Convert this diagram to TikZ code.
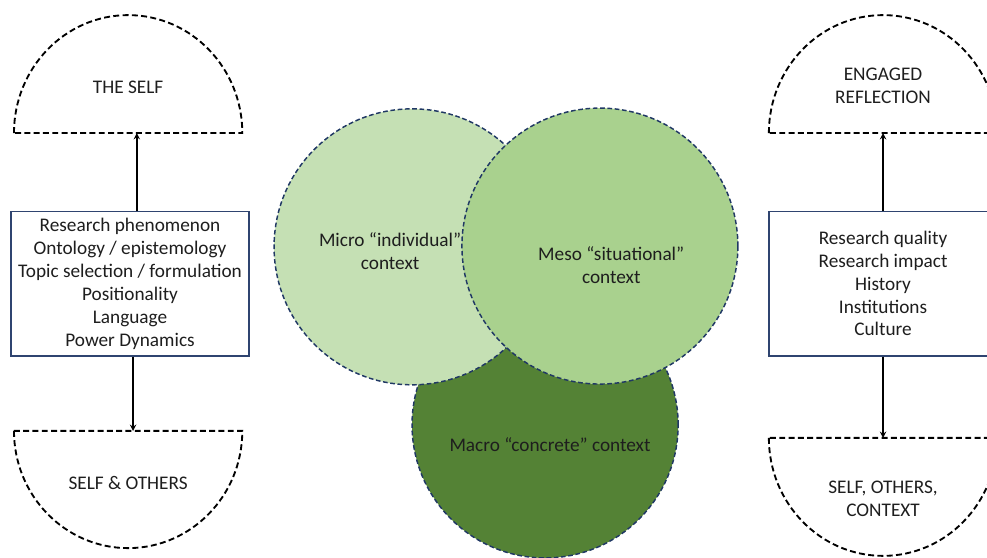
\documentclass[tikz,border=0pt]{standalone}
\usepackage{fontspec}
\setmainfont{Carlito}
\usetikzlibrary{arrows}
\definecolor{microgreen}{HTML}{C5E0B4}
\definecolor{mesogreen}{HTML}{A9D18E}
\definecolor{macrogreen}{HTML}{548235}
\definecolor{rimblue}{HTML}{203864}
\definecolor{boxblue}{HTML}{2F4470}
\definecolor{inkgray}{HTML}{1E1E1E}
\tikzstyle{listbox} = [rectangle, minimum height = 3.82cm, align = center, draw = boxblue, line width = 1.2pt, fill = white, text = inkgray, font = \fontsize{14.5}{17.25}\selectfont]
\tikzstyle{halfdisc} = [draw = black, dash pattern = on 4.5pt off 2.5pt, line width = 1.4pt]
\tikzstyle{disclabel} = [align = center, text = inkgray, font = \fontsize{14.5}{17.25}\selectfont]
\tikzstyle{context} = [circle, minimum size = 7.3cm, draw = rimblue, dash pattern = on 3.5pt off 2pt, line width = 1.1pt]
\tikzstyle{arrow} = [line width = 1.1pt, ->, >=stealth]

\begin{document}
\begin{tikzpicture}[node distance = 2cm]
    \clip (0,0) rectangle (26.11,14.76);
    % circles, back to front
    \node(macro)[context, fill = macrogreen, minimum size = 7.04cm] at (14.42,3.52){};
    \node(micro)[context, fill = microgreen] at (10.90,8.23){};
    \node(meso)[context, fill = mesogreen] at (15.87,8.25){};
    \node(microtxt)[disclabel] at (10.32,8.12){Micro “individual”\\context};
    \node(mesotxt)[disclabel] at (16.17,7.74){Meso “situational”\\context};
    \node(macrotxt)[disclabel] at (14.55,2.99){Macro “concrete” context};

    % left column
    \node(phenom)[listbox, minimum width = 6.3cm] at (3.44,7.25){Research phenomenon\\Ontology / epistemology\\Topic selection / formulation\\Positionality\\Language\\Power Dynamics};
    \coordinate(selfbase) at (3.39,11.24);
    \coordinate(otherstop) at (3.39,3.36);
    \draw[halfdisc]([xshift = -3.02cm]selfbase) arc[start angle = 180, end angle = 0, x radius = 3.02cm, y radius = 3.12cm] -- cycle;
    \draw[halfdisc]([xshift = -3.02cm]otherstop) arc[start angle = 180, end angle = 360, x radius = 3.02cm, y radius = 3.1cm] -- cycle;
    \node(selflbl)[disclabel, above of = selfbase, yshift = -0.78cm]{THE SELF};
    \node(otherslbl)[disclabel, below of = otherstop, yshift = 0.62cm]{SELF \& OTHERS};

    % right column
    \node(quality)[listbox, minimum width = 6.03cm] at (23.36,7.26){Research quality\\Research impact\\History\\Institutions\\Culture};
    \coordinate(reflbase) at (23.36,11.24);
    \coordinate(ctxtop) at (23.36,3.175);
    \draw[halfdisc]([xshift = -3.02cm]reflbase) arc[start angle = 180, end angle = 0, x radius = 3.02cm, y radius = 3.12cm] -- cycle;
    \draw[halfdisc]([xshift = -3.02cm]ctxtop) arc[start angle = 180, end angle = 360, x radius = 3.02cm, y radius = 3.12cm] -- cycle;
    \node(refllbl)[disclabel, above of = reflbase, yshift = -0.74cm]{ENGAGED\\REFLECTION};
    \node(ctxlbl)[disclabel, below of = ctxtop, yshift = 0.4cm]{SELF, OTHERS,\\CONTEXT};

    \draw[arrow]([xshift = 0.18cm]phenom.north)--([xshift = 0.18cm]phenom.north |- selfbase);
    \draw[arrow]([xshift = 0.08cm]phenom.south)--([xshift = 0.08cm]phenom.south |- otherstop);
    \draw[arrow](quality.north)--(reflbase);
    \draw[arrow](quality.south)--(ctxtop);
\end{tikzpicture}
\end{document}
